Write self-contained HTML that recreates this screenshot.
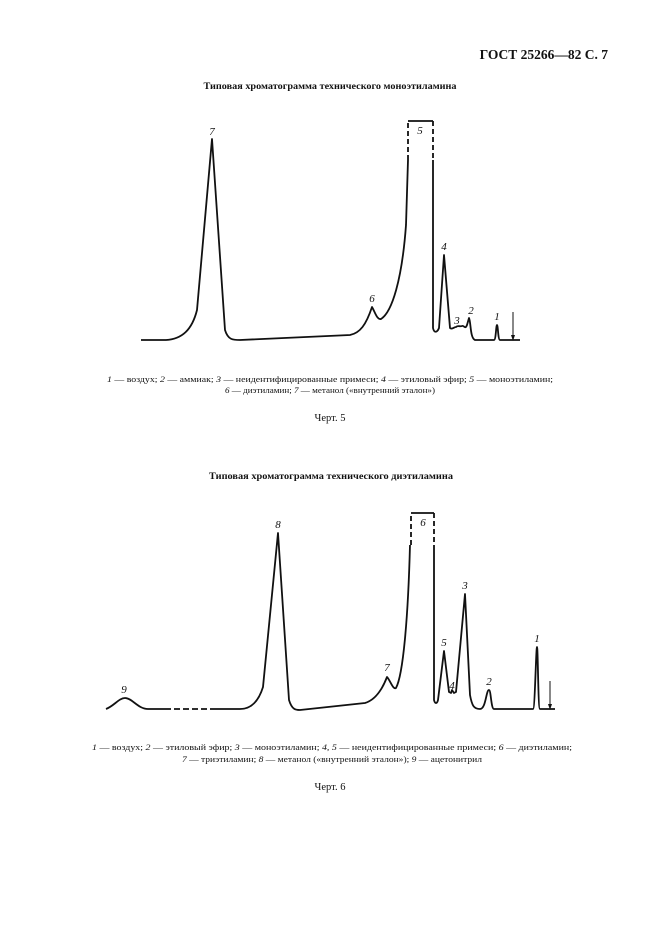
<!DOCTYPE html>
<html><head><meta charset="utf-8"><style>
body{margin:0;background:#fff;}
svg{display:block}
text{font-family:"Liberation Serif","DejaVu Serif",serif;fill:#111}
</style></head><body>
<svg width="661" height="936" viewBox="0 0 661 936" xmlns="http://www.w3.org/2000/svg">
<text x="608" y="59" font-size="13.5" font-weight="bold" text-anchor="end">ГОСТ 25266—82 С. 7</text>
<text x="330" y="89" font-size="9.5" font-weight="bold" text-anchor="middle" textLength="253" lengthAdjust="spacingAndGlyphs">Типовая хроматограмма технического моноэтиламина</text>

<g fill="none" stroke="#111" stroke-width="1.8" stroke-linejoin="round">
<path d="M141,340 L166,340 C182,339 192,330 197,310 L212,139 L225,330 C228,340 233,340 240,340 L350,335 C360,333 366,325 372,307 C375,312 377,320 381,319 C392,312 402,280 406,225 L408,160"/>
<path d="M408,160 L408,121" stroke-dasharray="5,3"/>
<path d="M408,121 L433,121"/>
<path d="M433,121 L433,160" stroke-dasharray="5,3"/>
<path d="M433,160 L433,328 C434,333 437,333 439,328 L444,255 L450,328 C452,330 454,327 456,327 C458,325 460,327 462,326 C464,325 465,330 467,325 L469,318 C471,322 470,338 475,340 L494,340 C496,340 496,325 497,325 C498,325 498,340 500,340 L520,340"/>
<path d="M513,312 L513,340" stroke-width="1"/>
</g>
<path d="M511,335 L513,341 L515,335 Z" fill="#111"/>
<g font-size="11" font-style="italic">
<text x="212" y="135" text-anchor="middle">7</text>
<text x="420" y="134" text-anchor="middle">5</text>
<text x="372" y="302" text-anchor="middle">6</text>
<text x="444" y="250" text-anchor="middle">4</text>
<text x="457" y="324" text-anchor="middle">3</text>
<text x="471" y="314" text-anchor="middle">2</text>
<text x="497" y="320" text-anchor="middle">1</text>
</g>
<text x="330" y="382" font-size="8" text-anchor="middle" textLength="446" lengthAdjust="spacingAndGlyphs"><tspan font-style="italic">1</tspan> — воздух; <tspan font-style="italic">2</tspan> — аммиак; <tspan font-style="italic">3</tspan> — неидентифицированные примеси; <tspan font-style="italic">4</tspan> — этиловый эфир; <tspan font-style="italic">5</tspan> — моноэтиламин;</text>
<text x="330" y="393" font-size="8" text-anchor="middle" textLength="210" lengthAdjust="spacingAndGlyphs"><tspan font-style="italic">6</tspan> — диэтиламин; <tspan font-style="italic">7</tspan> — метанол («внутренний эталон»)</text>
<text x="330" y="421" font-size="10.5" text-anchor="middle">Черт. 5</text>

<text x="331" y="479" font-size="9.5" font-weight="bold" text-anchor="middle" textLength="244" lengthAdjust="spacingAndGlyphs">Типовая хроматограмма технического диэтиламина</text>

<g fill="none" stroke="#111" stroke-width="1.8" stroke-linejoin="round">
<path d="M106,709 C114,706 119,698 125,698 C132,698 138,709 148,709 L165,709"/>
<path d="M165,709 L215,709" stroke-dasharray="6,3"/>
<path d="M215,709 L240,709 C252,709 259,700 263,687 L278,533 L289,700 C292,710 296,710 300,710 L365,703 C375,700 382,690 387,677 C390,680 393,690 396,688 C403,675 408,620 410,545"/>
<path d="M411,545 L411,513" stroke-dasharray="5,3"/>
<path d="M411,513 L434,513"/>
<path d="M434,513 L434,545" stroke-dasharray="5,3"/>
<path d="M434,545 L434,700 C435,704 437,704 438,700 L444,651 L449,692 L451,693 L452,690 L454,693 L456,692 L465,594 L470,695 C472,706 474,709 480,709 C486,709 486,690 489,690 C491,690 491,709 494,709 L533,709 C535,709 536,647 537,647 C538,647 538,709 540,709 L555,709"/>
<path d="M550,681 L550,709" stroke-width="1"/>
</g>
<path d="M548,704 L550,710 L552,704 Z" fill="#111"/>
<g font-size="11" font-style="italic">
<text x="124" y="693" text-anchor="middle">9</text>
<text x="278" y="528" text-anchor="middle">8</text>
<text x="423" y="526" text-anchor="middle">6</text>
<text x="387" y="671" text-anchor="middle">7</text>
<text x="444" y="646" text-anchor="middle">5</text>
<text x="452" y="689" text-anchor="middle">4</text>
<text x="465" y="589" text-anchor="middle">3</text>
<text x="489" y="685" text-anchor="middle">2</text>
<text x="537" y="642" text-anchor="middle">1</text>
</g>
<text x="332" y="750" font-size="8" text-anchor="middle" textLength="480" lengthAdjust="spacingAndGlyphs"><tspan font-style="italic">1</tspan> — воздух; <tspan font-style="italic">2</tspan> — этиловый эфир; <tspan font-style="italic">3</tspan> — моноэтиламин; <tspan font-style="italic">4, 5</tspan> — неидентифицированные примеси; <tspan font-style="italic">6</tspan> — диэтиламин;</text>
<text x="332" y="762" font-size="8" text-anchor="middle" textLength="300" lengthAdjust="spacingAndGlyphs"><tspan font-style="italic">7</tspan> — триэтиламин; <tspan font-style="italic">8</tspan> — метанол («внутренний эталон»); <tspan font-style="italic">9</tspan> — ацетонитрил</text>
<text x="330" y="790" font-size="10.5" text-anchor="middle">Черт. 6</text>
</svg>
</body></html>
